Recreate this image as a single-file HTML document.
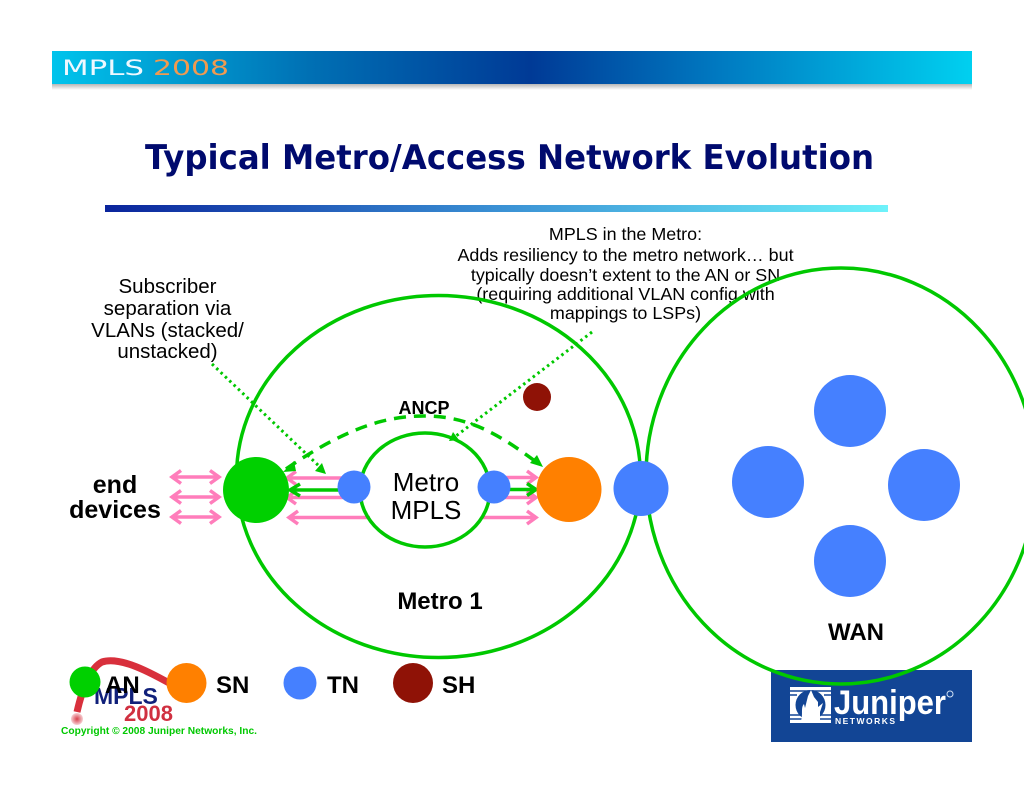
<!DOCTYPE html>
<html><head><meta charset="utf-8"><style>
html,body{margin:0;padding:0;background:#fff;width:1024px;height:791px;overflow:hidden}
svg{display:block}
text{font-family:"Liberation Sans",sans-serif}
</style></head><body>
<svg width="1024" height="791" viewBox="0 0 1024 791" xmlns="http://www.w3.org/2000/svg">
<defs>
<linearGradient id="hb" x1="0" x2="1" y1="0" y2="0">
<stop offset="0" stop-color="#00c4ec"/><stop offset=".28" stop-color="#0070b4"/><stop offset=".52" stop-color="#003a96"/><stop offset=".72" stop-color="#0078c0"/><stop offset="1" stop-color="#00d0f0"/>
</linearGradient>
<linearGradient id="rl" x1="0" x2="1" y1="0" y2="0">
<stop offset="0" stop-color="#0a249c"/><stop offset=".5" stop-color="#3a90d4"/><stop offset="1" stop-color="#6ef2fa"/>
</linearGradient>
<linearGradient id="sh" x1="0" x2="0" y1="0" y2="1">
<stop offset="0" stop-color="#aaa"/><stop offset="1" stop-color="#fff"/>
</linearGradient>
<radialGradient id="dot"><stop offset="0" stop-color="#d8404c"/><stop offset="1" stop-color="#f6d0d4"/></radialGradient>
<g id="pl"><path d="M3 0H50M12-6.500 3 0 12 6.500M41-6.500 50 0 41 6.500" fill="none" stroke="#ff7dbb" stroke-width="3.500"/></g>
<g id="la"><path d="M2 0H58M11-6.500 2 0 11 6.500" fill="none" stroke="#ff7dbb" stroke-width="3.500"/></g>
</defs>

<!-- header -->
<rect x="52" y="83" width="920" height="7" fill="url(#sh)"/>
<rect x="52" y="51" width="920" height="33" fill="url(#hb)"/>
<text x="62" y="75" font-size="21" fill="#eef8ff" textLength="82" lengthAdjust="spacingAndGlyphs" style="font-family:'DejaVu Sans',sans-serif">MPLS</text>
<text x="153" y="75" font-size="21" fill="#f09a50" textLength="76" lengthAdjust="spacingAndGlyphs" style="font-family:'DejaVu Sans',sans-serif">2008</text>

<!-- title -->
<text x="145" y="169" font-size="34" font-weight="bold" fill="#000a6e" textLength="729" lengthAdjust="spacingAndGlyphs" style="font-family:'DejaVu Sans',sans-serif">Typical Metro/Access Network Evolution</text>
<rect x="105" y="205" width="783" height="7" fill="url(#rl)"/>

<!-- legend logo -->
<path d="M77 712 C82 690 90 668 102 662 C120 656 150 672 178 688" fill="none" stroke="#d8303c" stroke-width="7"/>
<circle cx="77" cy="719" r="6" fill="url(#dot)"/>
<text x="94" y="704" font-size="23" font-weight="bold" fill="#10207a">MPLS</text>
<text x="124" y="721" font-size="22" font-weight="bold" fill="#d03040">2008</text>
<text x="61" y="734" font-size="10.500" font-weight="bold" fill="#00c800" textLength="196" lengthAdjust="spacingAndGlyphs">Copyright © 2008 Juniper Networks, Inc.</text>

<!-- juniper -->
<rect x="771" y="670" width="201" height="72" fill="#124595"/>
<rect x="790" y="687" width="41" height="36" fill="#fff"/>
<g stroke="#124595" stroke-width="1.500"><path d="M790 691H831M790 719H831M790 715H800M821 715H831M790 695H797M824 695H831"/></g>
<circle cx="810.500" cy="705" r="15" fill="#124595"/>
<path d="M800 723C804 716 800 708 804 704L805 708 808 696 811 690 814 697 818 702 818 707 823 703 820 712 820 723Z" fill="#fff"/>
<text x="834" y="714" font-size="34" font-weight="bold" fill="#fff" textLength="112" lengthAdjust="spacingAndGlyphs">Juniper</text>
<text x="835" y="724" font-size="8.500" font-weight="bold" fill="#fff" textLength="60" lengthAdjust="spacing">NETWORKS</text>
<circle cx="950" cy="694" r="3" fill="none" stroke="#cfe0f4" stroke-width="1"/>

<!-- callout text below the rings -->
<g font-size="17.900" fill="#000" text-anchor="middle">
<text x="625.500" y="240">MPLS in the Metro:</text>
<text x="625.500" y="261">Adds resiliency to the metro network… but</text>
<text x="625.500" y="281">typically doesn’t extent to the AN or SN</text>
<text x="625.500" y="300">(requiring additional VLAN config with</text>
<text x="625.500" y="319">mappings to LSPs)</text>
</g>

<!-- big circles -->
<ellipse cx="438.500" cy="476.500" rx="202" ry="181" fill="none" stroke="#00c800" stroke-width="3.500"/>
<ellipse cx="841" cy="476" rx="195" ry="208" fill="none" stroke="#00c800" stroke-width="3.500"/>

<!-- pink arrows left -->
<use href="#pl" x="169" y="477"/>
<use href="#pl" x="169" y="497"/>
<use href="#pl" x="169" y="517"/>
<use href="#la" x="285" y="478"/>
<use href="#la" x="285" y="497.500"/>
<path d="M289 517.500H370M298 511 289 517.500 298 524" fill="none" stroke="#ff7dbb" stroke-width="3.500"/>
<path d="M290 490H340M300 484 290 490 300 496" fill="none" stroke="#00c800" stroke-width="3.500"/>

<!-- pink arrows right -->
<path d="M505 477.500H536M527 471 536 477.500 527 484" fill="none" stroke="#ff7dbb" stroke-width="3.500"/>
<path d="M505 497.500H536M527 491 536 497.500 527 504" fill="none" stroke="#ff7dbb" stroke-width="3.500"/>
<path d="M483 517.500H536M527 511 536 517.500 527 524" fill="none" stroke="#ff7dbb" stroke-width="3.500"/>
<path d="M505 489.500H535M527 483.500 536 489.500 527 495.500" fill="none" stroke="#00c800" stroke-width="3.500"/>

<!-- metro mpls -->
<ellipse cx="425" cy="490" rx="65" ry="57" fill="none" stroke="#00c800" stroke-width="3.500"/>

<!-- ANCP dashed -->
<path d="M286 469C350 425 390 416 424 416C470 416 500 435 539 464" fill="none" stroke="#00c800" stroke-width="3.500" stroke-dasharray="12 8"/>
<path d="M283 472 294 461 296 471Z" fill="#00c800"/>
<path d="M543 467 530 463 537 455Z" fill="#00c800"/>

<!-- dotted -->
<path d="M212 364 320 467" fill="none" stroke="#00c800" stroke-width="3" stroke-dasharray="2.500 3.500"/>
<path d="M326 474 315 471 322 463Z" fill="#00c800"/>
<path d="M592 332 456 436" fill="none" stroke="#00c800" stroke-width="3" stroke-dasharray="2.500 3.500"/>
<path d="M449 441 459 440 453 432Z" fill="#00c800"/>

<!-- nodes -->
<circle cx="256" cy="490" r="33" fill="#00d000"/>
<circle cx="354" cy="487" r="16.500" fill="#4580ff"/>
<circle cx="494" cy="487" r="16.500" fill="#4580ff"/>
<circle cx="569" cy="489.500" r="32.500" fill="#ff8000"/>
<circle cx="641" cy="488.500" r="27.500" fill="#4580ff"/>
<circle cx="537" cy="397" r="14" fill="#8f1206"/>
<circle cx="850" cy="411" r="36" fill="#4580ff"/>
<circle cx="768" cy="482" r="36" fill="#4580ff"/>
<circle cx="924" cy="485" r="36" fill="#4580ff"/>
<circle cx="850" cy="561" r="36" fill="#4580ff"/>

<!-- legend nodes -->
<circle cx="85" cy="682" r="15.500" fill="#00d000"/>
<circle cx="186.500" cy="683" r="20" fill="#ff8000"/>
<circle cx="300" cy="683" r="16.500" fill="#4580ff"/>
<circle cx="413" cy="683" r="20" fill="#8f1206"/>
<g font-size="24" font-weight="bold" fill="#000">
<text x="105" y="693">AN</text>
<text x="216" y="693">SN</text>
<text x="327" y="693">TN</text>
<text x="442" y="693">SH</text>
<text x="440" y="609" text-anchor="middle">Metro 1</text>
<text x="856" y="640" text-anchor="middle">WAN</text>
</g>
<g font-size="25" font-weight="bold" fill="#000" text-anchor="middle">
<text x="115" y="493">end</text>
<text x="115" y="518">devices</text>
</g>
<text x="424" y="414" text-anchor="middle" font-size="18" font-weight="bold" fill="#000">ANCP</text>
<g font-size="26" fill="#000" text-anchor="middle">
<text x="426" y="491">Metro</text>
<text x="426" y="519">MPLS</text>
</g>
<g font-size="20.500" fill="#000" text-anchor="middle">
<text x="167.500" y="293">Subscriber</text>
<text x="167.500" y="315">separation via</text>
<text x="167.500" y="337">VLANs (stacked/</text>
<text x="167.500" y="358">unstacked)</text>
</g>
</svg>
</body></html>
